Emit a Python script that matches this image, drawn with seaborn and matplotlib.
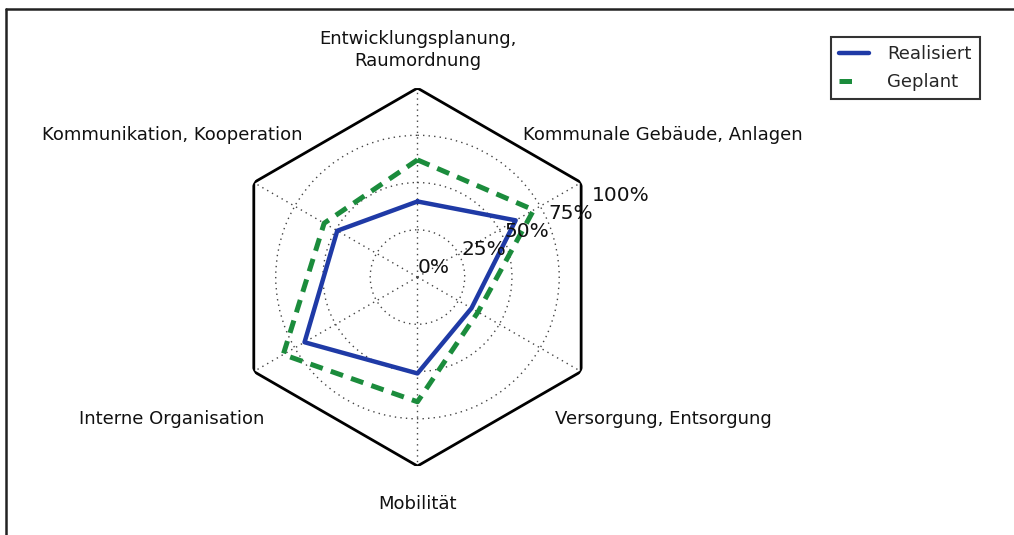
import numpy as np
import pandas as pd
import matplotlib
matplotlib.use("Agg")
import matplotlib.pyplot as plt
from matplotlib.lines import Line2D
import seaborn as sns

categories = ["Entwicklungsplanung,\nRaumordnung", "Kommunale Gebäude, Anlagen",
              "Versorgung, Entsorgung", "Mobilität", "Interne Organisation",
              "Kommunikation, Kooperation"]
realisiert = [40, 60, 33, 51, 69, 49]
geplant = [62, 71, 37, 66, 82, 57]
r_ticks = [0, 25, 50, 75, 100]
r_tick_labels = ["0%", "25%", "50%", "75%", "100%"]
series_names = ["Realisiert", "Geplant"]

sns.set_style("white")
plt.rcParams["font.family"] = ["DejaVu Sans"]

BLUE = "#1f3aa6"
GREEN = "#1b8c3c"

fig = plt.figure(figsize=(10.14, 5.35), dpi=100)
ax = fig.add_axes([0.2253, 0.1289, 0.3728, 0.7065], projection="polar")
ax.set_theta_offset(np.pi / 2)
ax.set_theta_direction(-1)

n = len(categories)
angles = np.linspace(0, 2 * np.pi, n, endpoint=False)
closed_angles = np.append(angles, angles[0])

def closed(vals):
    v = np.array(vals, dtype=float) / 100.0
    return np.append(v, v[0])

# hexagon frame
ax.plot(closed_angles, np.ones(n + 1), color="black", lw=2.0, label="_nolegend_", zorder=3)

df_r = pd.DataFrame({"theta": closed_angles, "r": closed(realisiert)})
df_g = pd.DataFrame({"theta": closed_angles, "r": closed(geplant)})
sns.lineplot(data=df_r, x="theta", y="r", sort=False, estimator=None, ax=ax,
             color=BLUE, lw=3.2, zorder=4)
sns.lineplot(data=df_g, x="theta", y="r", sort=False, estimator=None, ax=ax,
             color=GREEN, lw=3.6, zorder=4)
ax.lines[-1].set_linestyle((0, (2.6, 1.7)))

ax.set_ylim(0, 1)
ax.set_yticks([t / 100 for t in r_ticks[1:-1]])
ax.set_yticklabels([])
ax.set_xticks(angles)
ax.set_xticklabels([])
ax.grid(True, linestyle=(0, (1, 3)), color="#444444", lw=1.0)
ax.spines["polar"].set_visible(False)
ax.set_xlabel("")
ax.set_ylabel("")
ax.tick_params(length=0)

# radial labels
rl = np.deg2rad(90 - 22.5)
for t, lab in zip(r_ticks, r_tick_labels):
    ax.text(rl, t / 100, lab, ha="left", va="bottom", fontsize=14.5, color="#111111", zorder=5)

# category labels
for a, lab in zip(angles, categories):
    deg = np.rad2deg(a) % 180
    rr = 1.2 if deg < 1 else 1.5
    ax.text(a, rr, lab, ha="center", va="center", fontsize=13, color="#111111",
            linespacing=1.3)

handles = [Line2D([], [], color=BLUE, lw=3.2),
           Line2D([], [], color=GREEN, lw=3.6, linestyle=(0, (2.5, 10)))]
leg = fig.legend(handles, series_names, loc="upper right",
                 bbox_to_anchor=(980 / 1014, 1 - 37 / 535), fontsize=13,
                 frameon=True, fancybox=False, handlelength=1.7, borderpad=0.45,
                 labelspacing=0.55, handletextpad=1.0, borderaxespad=0)
leg.get_frame().set_edgecolor("black")
leg.get_frame().set_linewidth(1.5)

# scan border (top and left)
fig.add_artist(Line2D([6 / 1014, 1.0], [1 - 9 / 535, 1 - 9 / 535], transform=fig.transFigure,
                      color="#222222", lw=1.8))
fig.add_artist(Line2D([6 / 1014, 6 / 1014], [0.0, 1 - 9 / 535], transform=fig.transFigure,
                      color="#222222", lw=1.8))

fig.savefig("out.png", dpi=100)
